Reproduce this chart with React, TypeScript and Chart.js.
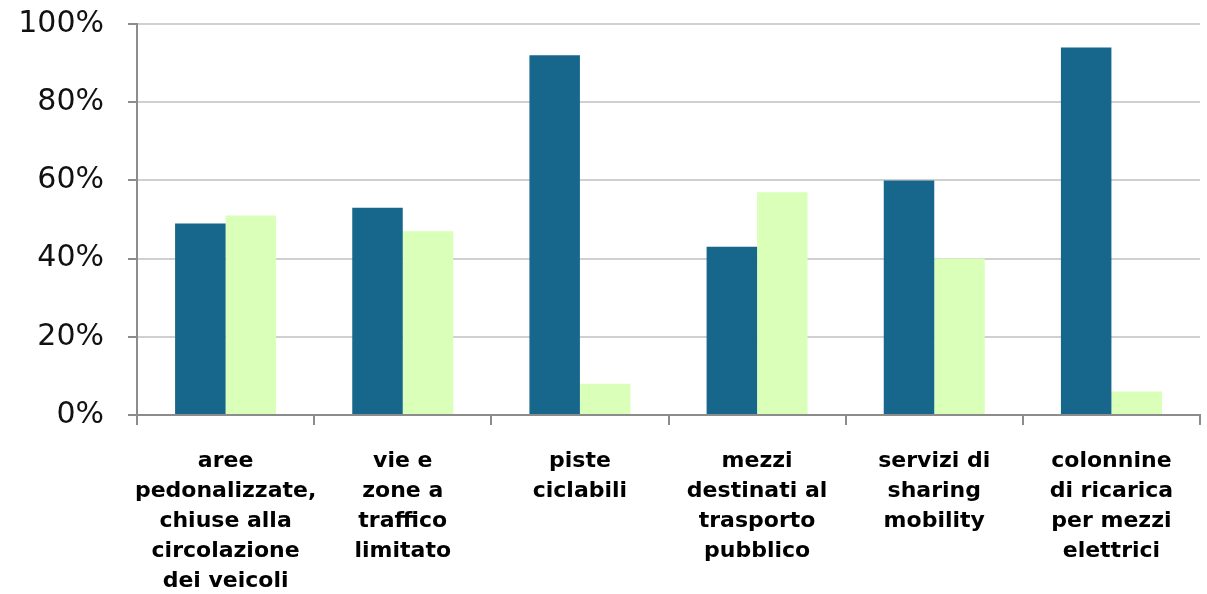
import React, { useEffect, useRef } from "react";
import { Chart, registerables } from "chart.js";

Chart.register(...registerables);

const categories: string[][] = [
  ["aree", "pedonalizzate,", "chiuse alla", "circolazione", "dei veicoli"],
  ["vie e", "zone a", "traffico", "limitato"],
  ["piste", "ciclabili"],
  ["mezzi", "destinati al", "trasporto", "pubblico"],
  ["servizi di", "sharing", "mobility"],
  ["colonnine", "di ricarica", "per mezzi", "elettrici"],
];
const seriesA = [49, 53, 92, 43, 60, 94];
const seriesB = [51, 47, 8, 57, 40, 6];
const yTicks = [0, 20, 40, 60, 80, 100];

export default function App() {
  const ref = useRef<HTMLCanvasElement | null>(null);
  useEffect(() => {
    document.body.style.margin = "0";
    const ctx = ref.current!;
    const chart = new Chart(ctx, {
      type: "bar",
      data: {
        labels: categories,
        datasets: [
          { label: "A", data: seriesA, backgroundColor: "#17668B", barPercentage: 1, categoryPercentage: 0.57 },
          { label: "B", data: seriesB, backgroundColor: "#D9FFB9", barPercentage: 1, categoryPercentage: 0.57 },
        ],
      },
      options: {
        animation: false,
        responsive: false,
        maintainAspectRatio: false,
        layout: { padding: { top: 24, right: 7, left: 0, bottom: 0 } },
        plugins: { legend: { display: false }, tooltip: { enabled: false } },
        scales: {
          x: {
            offset: true,
            grid: { display: true, offset: true, drawOnChartArea: false, tickLength: 10, color: "#8c8c8c", lineWidth: 2 },
            border: { display: true, color: "#8c8c8c", width: 2 },
            ticks: {
              color: "#000",
              font: { family: "DejaVu Sans", size: 22, weight: "bold", lineHeight: "30px" },
              padding: 21,
              maxRotation: 0,
              autoSkip: false,
            },
            afterFit: (s: any) => { s.height = 179; s.paddingLeft = 0; s.paddingRight = 0; },
          },
          y: {
            min: 0,
            max: 100,
            afterBuildTicks: (s: any) => { s.ticks = yTicks.map((v) => ({ value: v })); },
            grid: { color: "#d0d0d0", lineWidth: 2, tickLength: 9, tickColor: "#8c8c8c" },
            border: { display: true, color: "#8c8c8c", width: 2 },
            ticks: {
              color: "#111",
              font: { family: "DejaVu Sans", size: 30 },
              padding: 24,
              callback: (v: any) => v + "%",
            },
            afterFit: (s: any) => { s.width = 137; s.paddingTop = 0; s.paddingBottom = 0; },
          },
        },
      },
    });
    return () => chart.destroy();
  }, []);
  return (
    <div style={{ width: 1207, height: 594 }}>
      <canvas ref={ref} width={1207} height={594} style={{ display: "block" }} />
    </div>
  );
}
